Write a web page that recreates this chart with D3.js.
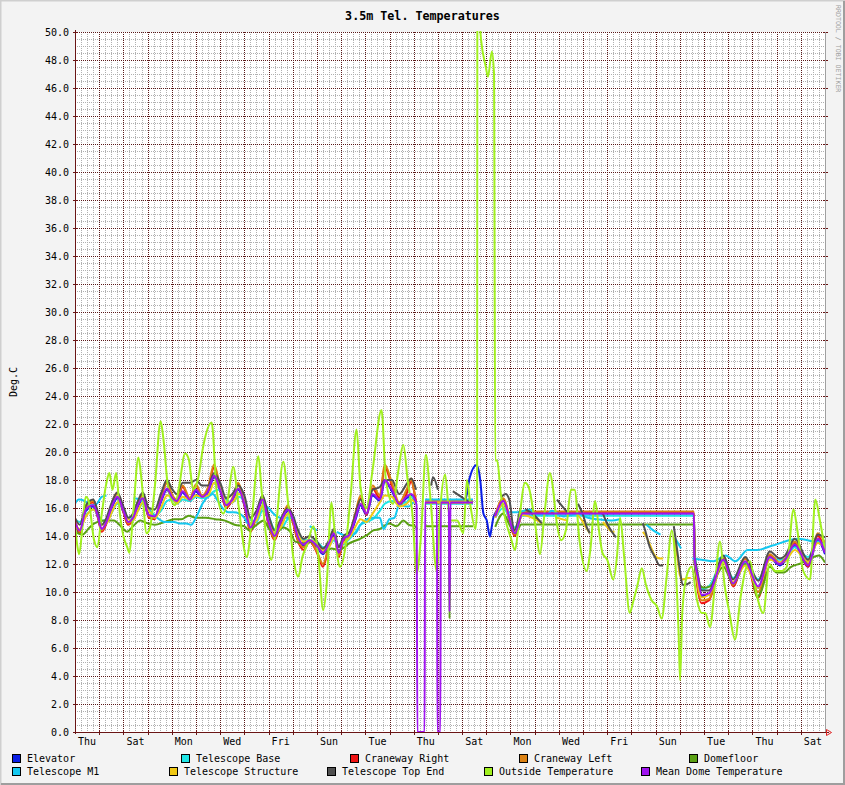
<!DOCTYPE html>
<html><head><meta charset="utf-8">
<script src="https://cdn.jsdelivr.net/npm/d3@7/dist/d3.min.js"></script>
<style>
body{margin:0;background:#f3f3f3}
svg{display:block}
text{font-family:"DejaVu Sans Mono",monospace}
</style>
</head><body>
<svg id="chart" width="845" height="785"></svg>
<script>
// ---------------- DATA ----------------
const chartTitle = "3.5m Tel. Temperatures";
const yAxisLabel = "Deg.C";
const watermark = "RRDTOOL / TOBI OETIKER";
const dayLabels = ["Thu","Sat","Mon","Wed","Fri","Sun","Tue","Thu","Sat","Mon","Wed","Fri","Sun","Tue","Thu","Sat"];
const totalDays = 31;   // time span in days
const yMin = 0, yMax = 50;

const seriesNames = ["Elevator","Telescope Base","Craneway Right","Craneway Left","Domefloor",
  "Telescope M1","Telescope Structure","Telescope Top End","Outside Temperature","Mean Dome Temperature"];
const seriesColors = ["#0a1ee6","#1ee6e6","#f01414","#dc8214","#5aa014",
  "#14c8f0","#f0c814","#505050","#a0f01e","#a014f0"];

// [day, °C] samples, null = no data
const elevator = [[0,14.8],[0.2,14.2],[0.45,15.8],[0.75,16.1],[0.95,15.3],[1.1,14.4],[1.3,14.9],[1.5,15.9],[1.75,16.7],[2.0,15.7],[2.2,14.9],[2.4,15.2],[2.6,16.1],[2.8,16.6],[3.05,15.4],[3.3,15.3],[3.55,16.4],[3.8,17.3],[4.0,16.7],[4.2,16.4],[4.45,17.1],[4.75,16.5],[5.0,17.2],[5.25,16.7],[5.5,17.1],[5.75,18.2],[6.0,17.2],[6.25,16.1],[6.5,16.5],[6.75,17.3],[7.0,16.2],[7.25,14.5],[7.5,15.4],[7.75,16.5],[8.0,14.9],[8.25,13.9],[8.5,14.9],[8.8,15.8],[9.0,15.1],[9.2,13.9],[9.45,13.3],[9.7,13.6],[10.0,13.2],[10.25,12.7],[10.5,13.4],[10.7,14.1],[10.9,12.7],[11.1,13.7],[11.35,14.0],[11.6,15.2],[11.8,16.2],[12.05,15.5],[12.3,16.9],[12.6,16.5],[12.8,17.9],[13.1,17.2],[13.4,16.2],[13.7,16.7],[13.9,16.9],[14.05,16.5],[14.1,16.4],[14.12,null],[14.45,null],[14.47,16.4],[16.12,16.5],[16.32,18.2],[16.6,19.07],[16.75,18.0],[16.88,15.6],[17.02,15.1],[17.15,13.95],[17.22,14.6],[17.29,15.3],[17.43,15.8],[17.57,16.1],[17.7,16.3],[18.18,14.1],[18.5,15.6],[25.58,15.6],[25.62,12.0],[25.9,9.7],[26.2,9.8],[26.8,12.2],[27.2,10.5],[27.7,12.1],[28.24,10.3],[28.72,12.4],[29.13,11.9],[29.35,12.2],[29.75,13.3],[30.3,11.8],[30.7,13.7],[31,12.7]];

const telescopeBase = [[0,15.2],[0.2,15.0],[0.45,15.5],[0.75,15.9],[0.95,15.6],[1.1,15.1],[1.3,15.1],[1.5,15.6],[1.75,16.3],[2.0,16.0],[2.2,15.3],[2.4,15.3],[2.6,15.8],[2.8,16.3],[3.05,15.9],[3.3,15.5],[3.55,15.8],[3.8,16.5],[4.0,16.6],[4.2,16.3],[4.45,16.6],[4.75,16.5],[5.0,16.8],[5.25,16.7],[5.5,16.8],[5.75,17.2],[6.0,17.3],[6.25,16.6],[6.5,16.4],[6.75,16.8],[7.0,16.6],[7.25,15.2],[7.5,15.0],[7.75,15.8],[8.0,15.4],[8.25,14.5],[8.5,14.5],[8.8,15.2],[9.0,15.3],[9.2,14.4],[9.45,13.7],[9.7,13.7],[10.0,13.6],[10.25,13.2],[10.5,13.3],[10.7,13.7],[10.9,13.3],[11.1,13.4],[11.35,13.8],[11.6,14.3],[11.8,14.8],[12.05,15.0],[12.3,15.2],[12.6,15.8],[12.8,16.3],[13.1,16.5],[13.4,16.3],[13.7,16.4],[13.9,16.8],[14.05,16.6],[14.1,16.5],[14.12,null],[14.45,null],[14.47,16.3],[16.45,16.3],[16.46,null],[17.36,null],[17.37,15.3],[17.7,16.0],[18.18,14.6],[18.5,15.45],[25.58,15.45],[25.62,12.8],[25.9,10.2],[26.2,10.4],[26.8,12.2],[27.2,11.0],[27.7,12.1],[28.24,10.9],[28.72,12.4],[29.13,12.3],[29.35,12.4],[29.75,13.2],[30.3,12.5],[30.7,13.6],[31,13.3]];

const cranewayRight = [[0,15.1],[0.2,14.2],[0.45,16.1],[0.75,16.4],[0.95,15.3],[1.1,14.3],[1.3,14.9],[1.5,16.2],[1.75,17.1],[2.0,15.7],[2.2,14.8],[2.4,15.2],[2.6,16.4],[2.8,17.0],[3.05,15.3],[3.3,15.2],[3.55,16.7],[3.8,17.8],[4.0,16.9],[4.2,16.4],[4.45,17.5],[4.75,16.6],[5.0,17.6],[5.25,16.8],[5.5,17.4],[5.75,18.9],[6.0,17.4],[6.25,16.0],[6.5,16.6],[6.75,17.7],[7.0,16.2],[7.25,14.3],[7.5,15.4],[7.75,16.8],[8.0,14.8],[8.25,13.7],[8.5,14.9],[8.8,16.1],[9.0,15.0],[9.2,13.7],[9.45,13.0],[9.7,13.6],[10.0,12.8],[10.25,11.8],[10.5,13.3],[10.7,14.4],[10.9,12.5],[11.1,13.7],[11.35,14.1],[11.6,15.6],[11.8,16.7],[12.05,15.5],[12.3,17.4],[12.6,16.7],[12.8,18.9],[13.1,17.6],[13.4,16.2],[13.7,17.0],[13.9,17.9],[14.05,16.9],[14.1,16.5],[14.12,null],[14.45,null],[14.47,16.4],[16.45,16.4],[16.46,null],[17.36,null],[17.37,15.4],[17.7,16.6],[18.18,14.0],[18.5,15.65],[25.58,15.65],[25.62,12.0],[25.9,9.2],[26.2,9.4],[26.8,12.4],[27.2,10.4],[27.7,12.4],[28.24,9.6],[28.72,12.6],[29.13,12.0],[29.35,12.3],[29.75,13.5],[30.3,11.8],[30.7,14.0],[31,12.9]];

const cranewayLeft = [[0,15.2],[0.2,14.3],[0.45,16.0],[0.75,16.5],[0.95,15.4],[1.1,14.4],[1.3,15.0],[1.5,16.1],[1.75,17.0],[2.0,15.8],[2.2,14.9],[2.4,15.3],[2.6,16.3],[2.8,16.9],[3.05,15.4],[3.3,15.3],[3.55,16.8],[3.8,17.9],[4.0,17.0],[4.2,16.6],[4.45,17.6],[4.75,16.7],[5.0,17.7],[5.25,16.9],[5.5,17.5],[5.75,19.1],[6.0,17.5],[6.25,16.1],[6.5,16.7],[6.75,17.8],[7.0,16.3],[7.25,14.4],[7.5,15.5],[7.75,16.9],[8.0,14.9],[8.25,13.8],[8.5,15.0],[8.8,16.2],[9.0,15.1],[9.2,13.8],[9.45,13.2],[9.7,13.7],[10.0,12.9],[10.25,12.0],[10.5,13.4],[10.7,14.5],[10.9,12.6],[11.1,13.8],[11.35,14.2],[11.6,15.7],[11.8,16.9],[12.05,15.6],[12.3,17.6],[12.6,16.9],[12.8,19.1],[13.1,17.8],[13.4,16.4],[13.7,17.3],[13.9,18.1],[14.05,17.0],[14.1,16.8],[14.12,null],[14.45,null],[14.47,16.5],[16.45,16.5],[16.46,null],[17.36,null],[17.37,15.5],[17.7,16.7],[18.18,14.1],[18.5,15.75],[25.58,15.75],[25.62,12.2],[25.9,9.4],[26.2,9.5],[26.8,12.5],[27.2,10.5],[27.7,12.4],[28.24,10.0],[28.72,12.7],[29.13,12.1],[29.35,12.4],[29.75,13.6],[30.3,12.0],[30.7,14.2],[31,13.5]];

const domefloor = [[0,14.3],[0.3,14.1],[0.6,14.6],[0.8,14.9],[1.2,15.1],[1.6,15.1],[1.95,14.6],[2.15,14.3],[2.4,14.7],[2.7,15.1],[3.0,14.9],[3.3,14.8],[3.7,15.0],[4.1,15.2],[4.4,15.2],[4.7,15.45],[5.0,15.3],[5.4,15.3],[5.8,15.2],[6.2,15.1],[6.6,14.8],[7.0,14.7],[7.2,14.4],[7.5,14.8],[7.8,15.1],[8.06,14.4],[8.3,14.2],[8.6,14.6],[8.9,14.3],[9.1,13.6],[9.4,13.5],[9.7,13.6],[10.06,13.2],[10.26,12.8],[10.6,13.1],[10.9,13.0],[11.36,13.5],[11.78,13.8],[12.1,14.1],[12.33,14.4],[12.6,14.5],[12.98,14.9],[13.3,14.7],[13.57,15.1],[13.8,14.8],[14.04,14.7],[14.15,14.5],[14.17,null],[14.45,null],[14.47,14.7],[15.45,14.7],[15.48,8.1],[15.52,14.7],[16.45,14.7],[16.46,null],[17.36,null],[17.37,14.66],[17.7,15.6],[18.0,14.66],[18.2,14.2],[18.45,14.83],[25.58,14.83],[25.62,11.8],[25.8,10.5],[26.0,10.3],[26.25,10.4],[26.8,11.8],[27.2,10.6],[27.7,12.0],[28.0,11.0],[28.2,9.6],[28.35,10.0],[28.72,11.8],[29.0,11.4],[29.3,11.4],[29.6,11.8],[30.0,12.05],[30.3,12.3],[30.75,12.6],[31,12.1]];

const telescopeM1 = [[0,16.3],[0.15,16.6],[0.4,16.5],[0.65,16.2],[0.9,16.3],[1.1,16.8],[1.3,16.9],[1.32,null],[2.4,null],[2.42,16.7],[2.7,16.6],[2.9,16.2],[3.1,15.8],[3.4,15.3],[3.7,15.0],[4.1,15.0],[4.3,14.9],[4.6,14.9],[4.8,14.8],[5.0,15.3],[5.3,16.4],[5.5,16.8],[5.7,17.0],[5.9,16.5],[6.15,15.9],[6.35,15.7],[6.55,15.7],[6.8,15.6],[7.0,15.3],[7.15,14.9],[7.35,15.0],[7.6,15.6],[7.8,16.2],[8.0,16.0],[8.2,15.6],[8.5,15.3],[8.9,15.3],[9.1,15.3],[9.12,null],[9.65,null],[9.7,14.7],[10.0,14.4],[10.02,null],[10.8,null],[10.82,14.3],[11.3,14.0],[11.6,14.2],[11.8,14.8],[12.3,15.3],[12.6,15.3],[12.75,14.5],[13.0,15.2],[13.2,15.3],[13.4,16.2],[13.8,16.1],[14.0,16.4],[14.1,16.3],[14.12,null],[14.45,null],[14.47,16.6],[16.45,16.6],[16.46,null],[17.9,null],[17.92,15.7],[18.3,15.7],[18.8,15.9],[19.0,15.6],[19.5,15.5],[19.7,15.8],[20.2,15.4],[20.8,15.6],[21.2,15.3],[21.6,15.2],[22.2,15.1],[22.5,15.2],[22.52,null],[23.6,null],[23.62,14.8],[23.9,14.4],[24.2,14.1],[24.22,null],[24.8,null],[24.82,13.8],[25.05,13.1],[25.07,null],[25.5,null],[25.52,12.4],[25.9,12.3],[26.4,12.2],[26.9,12.6],[27.3,12.2],[27.8,13.0],[28.2,13.0],[28.8,13.3],[29.9,13.8],[30.5,13.6],[31,13.4]];

const telescopeStructure = [[0,14.7],[0.2,14.5],[0.45,15.4],[0.75,15.9],[0.95,15.5],[1.1,14.8],[1.3,14.9],[1.5,15.6],[1.75,16.4],[2.0,16.0],[2.2,15.2],[2.4,15.1],[2.6,15.8],[2.8,16.4],[3.05,15.8],[3.3,15.3],[3.55,16.0],[3.8,16.9],[4.0,16.8],[4.2,16.3],[4.45,16.8],[4.75,16.6],[5.0,16.9],[5.25,16.8],[5.5,16.9],[5.75,17.8],[6.0,17.4],[6.25,16.4],[6.5,16.4],[6.75,17.0],[7.0,16.6],[7.25,14.9],[7.5,15.1],[7.75,16.2],[8.0,15.3],[8.25,14.2],[8.5,14.6],[8.8,15.6],[9.0,15.4],[9.2,14.2],[9.45,13.6],[9.7,13.7],[10.0,13.5],[10.25,13.0],[10.5,13.2],[10.7,13.9],[10.9,13.2],[11.1,13.5],[11.35,13.9],[11.6,14.7],[11.8,15.2],[12.05,15.0],[12.3,15.6],[12.6,16.4],[12.8,16.9],[13.1,16.8],[13.4,16.1],[13.7,16.3],[13.9,16.6],[14.05,16.4],[14.1,16.3],[14.12,null],[14.45,null],[14.47,16.4],[16.45,16.4],[16.46,null],[17.36,null],[17.37,15.3],[17.7,16.3],[18.18,14.3],[18.5,15.5],[18.9,15.3],[19.3,14.9],[19.32,null],[19.9,null],[19.92,15.3],[20.35,15.1],[20.37,null],[20.77,null],[20.79,15.5],[21.0,15.0],[21.16,14.5],[21.28,14.2],[21.3,null],[21.8,null],[21.82,15.0],[22.02,14.6],[22.19,14.3],[22.3,14.3],[22.32,null],[23.45,null],[23.47,14.3],[23.6,14.0],[23.76,13.4],[23.97,12.6],[24.17,12.4],[24.31,12.4],[24.33,null],[24.73,null],[24.75,13.8],[24.9,12.5],[25.0,11.2],[25.12,10.9],[25.35,11.0],[25.45,11.0],[25.47,null],[25.6,null],[25.62,12.3],[25.9,9.6],[26.2,9.8],[26.8,12.1],[27.2,10.7],[27.7,11.9],[28.24,10.3],[28.72,12.3],[29.13,12.1],[29.35,12.2],[29.75,13.0],[30.3,12.2],[30.7,13.5],[31,13.2]];

const telescopeTopEnd = [[0,15.3],[0.2,14.8],[0.45,16.2],[0.75,16.6],[0.95,15.7],[1.1,14.8],[1.3,15.3],[1.5,16.3],[1.75,17.1],[2.0,16.1],[2.2,15.3],[2.4,15.6],[2.6,16.5],[2.8,17.1],[3.05,16.0],[3.3,15.9],[3.55,17.0],[3.8,18.0],[4.0,17.4],[4.2,17.0],[4.45,17.8],[4.75,17.8],[5.0,18.0],[5.25,17.6],[5.5,17.6],[5.75,18.5],[6.0,17.8],[6.25,16.7],[6.5,17.0],[6.75,17.6],[7.0,16.9],[7.25,15.3],[7.5,15.8],[7.75,16.9],[8.0,15.5],[8.25,14.4],[8.5,15.2],[8.8,16.0],[9.0,15.5],[9.2,14.5],[9.45,13.8],[9.7,14.0],[10.0,13.6],[10.25,13.1],[10.5,13.7],[10.7,14.5],[10.9,13.2],[11.1,14.0],[11.35,14.3],[11.6,15.6],[11.8,16.6],[12.05,16.0],[12.3,17.3],[12.6,17.5],[12.8,18.0],[13.1,18.0],[13.4,17.0],[13.7,17.7],[13.9,18.1],[14.1,17.3],[14.12,null],[14.7,null],[14.72,17.6],[14.8,18.2],[15.0,17.3],[15.02,null],[15.6,null],[15.62,17.2],[16.05,16.7],[16.3,16.4],[16.32,null],[17.6,null],[17.62,16.8],[17.8,17.0],[17.95,16.6],[18.15,14.4],[18.4,15.9],[18.42,null],[18.6,null],[18.62,15.9],[18.9,15.6],[19.3,14.9],[19.32,null],[19.9,null],[19.92,16.6],[20.15,16.1],[20.35,15.7],[20.37,null],[20.77,null],[20.79,16.3],[21.0,15.5],[21.16,14.6],[21.28,14.2],[21.3,null],[21.8,null],[21.82,15.6],[22.02,14.8],[22.19,14.3],[22.36,13.9],[22.38,null],[23.45,null],[23.47,14.9],[23.55,14.5],[23.76,13.2],[23.97,12.5],[24.17,11.9],[24.31,11.9],[24.33,null],[24.73,null],[24.75,14.7],[24.85,13.5],[25.0,11.6],[25.12,10.5],[25.35,10.6],[25.45,10.7],[25.47,null],[25.6,null],[25.62,12.4],[25.75,11.2],[25.9,10.1],[26.2,10.1],[26.8,12.6],[27.2,10.9],[27.7,12.5],[28.24,10.8],[28.72,12.9],[29.13,12.4],[29.35,12.6],[29.75,13.8],[30.3,12.3],[30.7,14.1],[31,13.9]];

const outsideTemperature = [[0,14.9],[0.08,13.5],[0.17,12.7],[0.3,14.5],[0.44,16.8],[0.55,16.6],[0.79,13.7],[0.92,13.2],[1.1,15.5],[1.3,17.8],[1.42,18.5],[1.55,17.3],[1.7,18.5],[1.86,15.5],[2.0,14.0],[2.16,13.2],[2.25,12.8],[2.4,15.5],[2.62,19.6],[2.75,18.0],[2.96,14.2],[3.1,14.6],[3.3,17.5],[3.54,22.2],[3.65,21.0],[3.86,17.3],[4.13,16.2],[4.3,17.5],[4.55,19.9],[4.7,19.5],[4.89,17.3],[5.1,18.2],[5.3,20.4],[5.65,22.1],[5.85,17.3],[6.13,15.6],[6.3,16.5],[6.54,18.95],[6.75,16.3],[7.1,12.5],[7.3,15.0],[7.58,19.7],[7.7,17.5],[7.9,14.0],[8.12,12.3],[8.3,14.5],[8.61,19.3],[8.8,16.5],[9.02,12.5],[9.23,11.1],[9.4,12.5],[9.6,13.4],[9.85,14.7],[10.06,12.5],[10.26,8.7],[10.4,10.5],[10.6,16.4],[10.75,14.0],[10.95,11.8],[11.2,13.5],[11.4,17.0],[11.64,21.6],[11.8,17.5],[12.05,16.0],[12.3,18.7],[12.67,23.0],[12.85,18.0],[13.15,16.3],[13.35,18.5],[13.57,20.5],[13.75,18.0],[13.95,15.5],[14.12,11.3],[14.3,14.0],[14.5,19.8],[14.7,16.5],[14.95,11.5],[15.1,16.0],[15.3,18.4],[15.5,15.1],[15.8,15.1],[16.05,14.2],[16.2,18.0],[16.35,16.1],[16.55,14.5],[16.62,16.0],[16.63,53],[16.78,49.5],[16.98,47.5],[17.07,46.8],[17.23,48.6],[17.32,47.0],[17.37,19.4],[17.45,19.4],[17.6,17.0],[17.8,15.1],[18.0,13.95],[18.19,13.0],[18.35,15.0],[18.6,17.8],[18.75,17.5],[19.0,15.1],[19.22,12.7],[19.4,15.5],[19.63,18.5],[19.75,17.5],[19.9,15.1],[20.1,13.7],[20.3,14.5],[20.5,17.3],[20.65,17.3],[20.85,13.7],[21.15,11.5],[21.3,13.0],[21.5,16.5],[21.65,14.5],[21.8,12.8],[22.0,12.3],[22.25,10.9],[22.4,12.5],[22.53,15.3],[22.7,12.5],[22.93,8.5],[23.07,9.3],[23.25,10.5],[23.43,11.7],[23.6,10.5],[23.84,9.4],[24.05,9.0],[24.25,8.1],[24.45,11.0],[24.67,14.4],[24.8,12.5],[24.95,7.0],[25.01,3.7],[25.1,8.5],[25.29,11.2],[25.49,11.8],[25.7,9.5],[25.9,8.5],[26.05,8.5],[26.25,7.5],[26.45,10.5],[26.66,13.6],[26.85,10.5],[27.05,8.5],[27.28,6.6],[27.5,9.5],[27.7,11.5],[27.9,12.2],[28.15,10.0],[28.45,8.5],[28.7,12.0],[28.94,11.5],[29.2,11.5],[29.42,11.8],[29.7,15.9],[29.85,14.5],[30.1,11.5],[30.38,10.9],[30.6,16.6],[30.8,15.0],[31,13.0]];

const meanDomeTemperature = [[0,15.0],[0.2,14.4],[0.45,15.9],[0.75,16.2],[0.95,15.4],[1.1,14.5],[1.3,15.0],[1.5,16.0],[1.75,16.8],[2.0,15.8],[2.2,15.0],[2.4,15.3],[2.6,16.2],[2.8,16.7],[3.05,15.5],[3.3,15.4],[3.55,16.5],[3.8,17.4],[4.0,16.8],[4.2,16.5],[4.45,17.2],[4.75,16.6],[5.0,17.3],[5.25,16.8],[5.5,17.2],[5.75,18.3],[6.0,17.3],[6.25,16.2],[6.5,16.6],[6.75,17.4],[7.0,16.3],[7.25,14.6],[7.5,15.5],[7.75,16.6],[8.0,15.0],[8.25,14.0],[8.5,15.0],[8.8,15.9],[9.0,15.2],[9.2,14.0],[9.45,13.4],[9.7,13.7],[10.0,13.3],[10.25,12.8],[10.5,13.5],[10.7,14.2],[10.9,12.8],[11.1,13.8],[11.35,14.1],[11.6,15.3],[11.8,16.3],[12.05,15.6],[12.3,17.0],[12.6,16.6],[12.8,18.0],[13.1,17.3],[13.4,16.3],[13.7,16.8],[13.9,17.0],[14.05,16.6],[14.12,16.2],[14.15,0],[14.45,0],[14.47,16.4],[14.96,16.4],[14.98,0],[15.1,0],[15.12,16.4],[15.45,16.4],[15.48,8.6],[15.52,16.4],[16.45,16.4],[16.46,null],[17.36,null],[17.37,15.4],[17.7,16.5],[18.18,14.2],[18.5,15.6],[25.58,15.6],[25.6,12.6],[25.75,11.0],[25.9,9.8],[26.2,9.9],[26.8,12.3],[27.2,10.6],[27.7,12.2],[28.24,10.4],[28.72,12.5],[29.13,12.0],[29.35,12.3],[29.75,13.4],[30.3,11.9],[30.7,13.8],[31,12.8]];

const seriesData = [elevator, telescopeBase, cranewayRight, cranewayLeft, domefloor,
  telescopeM1, telescopeStructure, telescopeTopEnd, outsideTemperature, meanDomeTemperature];

// ---------------- LAYOUT ----------------
const W = 845, H = 785;
const plot = {left: 75, right: 825, top: 32, bottom: 732};
const legendRows = [
  {y: 754, xs: [12, 181, 350, 519, 689]},
  {y: 767, xs: [12, 169, 327, 484, 641]}
];
const gridMajor = "#5a1818", gridMinor = "#b0b0b0", axisCol = "#6a1515";

const svg = d3.select("#chart");
const x = d3.scaleLinear().domain([0, totalDays]).range([plot.left, plot.right]);
const y = d3.scaleLinear().domain([yMin, yMax]).range([plot.bottom, plot.top]);

// background + frame
svg.append("rect").attr("width", W).attr("height", H).attr("fill", "#f3f3f3");
svg.append("rect").attr("x", plot.left).attr("y", plot.top)
  .attr("width", plot.right - plot.left).attr("height", plot.bottom - plot.top).attr("fill", "#ffffff");
svg.append("path").attr("d", `M0.5,${H}V0.5H${W}`).attr("fill","none").attr("stroke","#cfcfcf").attr("stroke-width",2);
svg.append("path").attr("d", `M1,${H-1}H${W-1}V1`).attr("fill","none").attr("stroke","#9e9e9e").attr("stroke-width",2);

const grid = svg.append("g").attr("shape-rendering","crispEdges");
const px = v => Math.round(v) + 0.5;

// minor grid
const minorX = d3.range(0, totalDays * 4 + 1).map(i => i / 4).filter(d => d % 1 !== 0);
const minorY = d3.range(0, (yMax - yMin) * 2 + 1).map(i => yMin + i / 2).filter(d => d % 2 !== 0);
grid.selectAll(".mx").data(minorX).join("line")
  .attr("x1", d => px(x(d))).attr("x2", d => px(x(d)))
  .attr("y1", plot.top).attr("y2", plot.bottom)
  .attr("stroke", gridMinor).attr("stroke-dasharray","1,1");
grid.selectAll(".my").data(minorY).join("line")
  .attr("y1", d => px(y(d))).attr("y2", d => px(y(d)))
  .attr("x1", plot.left).attr("x2", plot.right)
  .attr("stroke", gridMinor).attr("stroke-dasharray","1,1");

// major grid
const majorX = d3.range(1, totalDays);
const majorY = d3.range(yMin, yMax + 0.01, 2);
grid.selectAll(".Mx").data(majorX).join("line")
  .attr("x1", d => px(x(d))).attr("x2", d => px(x(d)))
  .attr("y1", plot.top).attr("y2", plot.bottom + 2)
  .attr("stroke", gridMajor).attr("stroke-dasharray","1,1");
grid.selectAll(".My").data(majorY).join("line")
  .attr("y1", d => px(y(d))).attr("y2", d => px(y(d)))
  .attr("x1", plot.left - 2).attr("x2", plot.right + 2)
  .attr("stroke", gridMajor).attr("stroke-dasharray","1,1");
// solid ticks at the axis
grid.selectAll(".ty").data(majorY).join("line")
  .attr("y1", d => px(y(d))).attr("y2", d => px(y(d)))
  .attr("x1", plot.left - 2).attr("x2", plot.left + 3).attr("stroke", axisCol);
grid.selectAll(".ty2").data(majorY).join("line")
  .attr("y1", d => px(y(d))).attr("y2", d => px(y(d)))
  .attr("x1", plot.right - 2).attr("x2", plot.right + 3).attr("stroke", axisCol);
grid.selectAll(".tx").data(majorX).join("line")
  .attr("x1", d => px(x(d))).attr("x2", d => px(x(d)))
  .attr("y1", plot.bottom - 2).attr("y2", plot.bottom + 3).attr("stroke", axisCol);
// right frame line
grid.append("line").attr("x1", plot.right + 0.5).attr("x2", plot.right + 0.5)
  .attr("y1", plot.top).attr("y2", plot.bottom).attr("stroke", "#a0a0a0");

// data lines
svg.append("clipPath").attr("id","clip").append("rect")
  .attr("x", plot.left).attr("y", plot.top - 1)
  .attr("width", plot.right - plot.left).attr("height", plot.bottom - plot.top + 1);
const line = d3.line().defined(d => d[1] !== null).x(d => x(d[0])).y(d => y(d[1]))
  .curve(d3.curveMonotoneX);
const lines = svg.append("g").attr("clip-path","url(#clip)");
seriesData.forEach((data, i) => {
  lines.append("path").datum(data).attr("d", line)
    .attr("fill","none").attr("stroke", seriesColors[i]).attr("stroke-width", 2)
    .attr("stroke-linejoin","round");
});

// axes lines
svg.append("line").attr("x1", plot.left + 0.5).attr("x2", plot.left + 0.5)
  .attr("y1", plot.top - 2).attr("y2", plot.bottom + 2).attr("stroke", axisCol).attr("shape-rendering","crispEdges");
svg.append("line").attr("x1", plot.left - 2).attr("x2", plot.right + 4)
  .attr("y1", plot.bottom + 0.5).attr("y2", plot.bottom + 0.5).attr("stroke", axisCol).attr("shape-rendering","crispEdges");
svg.append("path")
  .attr("d", `M${plot.right + 1.5},${plot.bottom - 2.5}L${plot.right + 6.5},${plot.bottom + 0.5}L${plot.right + 1.5},${plot.bottom + 3.5}Z`)
  .attr("fill","none").attr("stroke","#e02020");

// y tick labels
svg.append("g").selectAll("text").data(majorY).join("text")
  .attr("x", plot.left - 6).attr("y", d => y(d) + 4)
  .attr("text-anchor","end").attr("font-size", 10).attr("fill","#000")
  .text(d => d3.format(".1f")(d));

// x labels at noon of every 2nd day
svg.append("g").selectAll("text").data(dayLabels).join("text")
  .attr("x", (d, i) => x(i * 2 + 0.5)).attr("y", plot.bottom + 13)
  .attr("text-anchor","middle").attr("font-size", 10).attr("fill","#000")
  .text(d => d);

// title
svg.append("text").attr("x", W / 2).attr("y", 20).attr("text-anchor","middle")
  .attr("font-size", 11.7).attr("font-weight","bold").attr("fill","#000").text(chartTitle);

// y axis label
svg.append("text").attr("transform", `translate(17,${(plot.top + plot.bottom) / 2}) rotate(-90)`)
  .attr("text-anchor","middle").attr("font-size", 10).attr("fill","#000").text(yAxisLabel);

// watermark
svg.append("text").attr("transform", "translate(836,5) rotate(90)")
  .attr("font-size", 6.6).attr("fill","#a0a0a0").text(watermark);

// legend
seriesNames.forEach((name, i) => {
  const row = legendRows[Math.floor(i / 5)], col = i % 5;
  const g = svg.append("g").attr("transform", `translate(${row.xs[col]},${row.y})`);
  g.append("rect").attr("x", 0.5).attr("y", 0.5).attr("width", 8).attr("height", 8)
    .attr("fill", seriesColors[i]).attr("stroke","#000").attr("shape-rendering","crispEdges");
  g.append("text").attr("x", 15).attr("y", 8).attr("font-size", 10).attr("fill","#000").text(name);
});
</script>
</body></html>
